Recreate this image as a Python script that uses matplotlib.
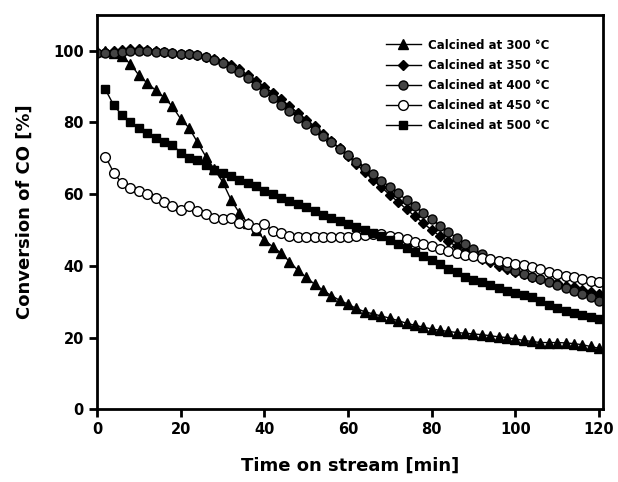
import matplotlib
matplotlib.use("Agg")
import matplotlib.pyplot as plt
import numpy as np

plt.rcParams['font.family'] = ['DejaVu Sans']

# time axes [min]
t_full = list(range(0, 121, 2))
t_late = list(range(2, 121, 2))

labels = ["Calcined at 300 °C", "Calcined at 350 °C", "Calcined at 400 °C",
          "Calcined at 450 °C", "Calcined at 500 °C"]

conv_300 = [100, 100, 99.5, 98.5, 96.3, 93.2, 91, 89, 87, 84.5, 81, 78.5, 74.5, 70.5, 67,
            63.5, 58.5, 54.8, 52, 50, 47.3, 45.3, 43.6, 41.2, 38.8, 36.8, 34.9, 33.2, 31.7,
            30.4, 29.3, 28.1, 27.2, 26.6, 26, 25.4, 24.7, 24, 23.4, 22.9, 22.4, 22, 21.7,
            21.4, 21.2, 21, 20.8, 20.5, 20.2, 20, 19.6, 19.2, 18.9, 18.6, 18.6, 18.6, 18.5,
            18.3, 18, 17.5, 17]

conv_350 = [99.5, 99.8, 100, 100.3, 100.5, 100.5, 100.3, 100, 99.8, 99.5, 99.2, 99, 98.7,
            98.3, 97.8, 97, 96, 94.8, 93.3, 91.7, 90, 88.3, 86.5, 84.6, 82.7, 80.8, 78.9,
            76.9, 74.9, 72.8, 70.6, 68.4, 66.2, 64, 61.9, 59.8, 57.8, 55.8, 53.8, 51.9, 50,
            48.3, 46.8, 45.4, 44.2, 43, 42, 41, 40, 39.2, 38.4, 37.7, 37, 36.3, 35.7, 35.1,
            34.5, 34, 33.4, 32.8, 32.2]

conv_400 = [99.5, 99.5, 99.5, 99.8, 100, 100, 100, 99.8, 99.6, 99.4, 99.2, 99, 98.7, 98.2,
            97.5, 96.5, 95.3, 94, 92.3, 90.5, 88.5, 86.8, 85, 83.2, 81.3, 79.6, 78, 76.3,
            74.6, 72.6, 70.8, 69, 67.2, 65.5, 63.8, 62, 60.2, 58.4, 56.6, 54.8, 53, 51.2,
            49.5, 47.8, 46.2, 44.7, 43.3, 42, 40.8, 39.7, 38.7, 37.8, 37, 36.2, 35.4, 34.6,
            33.8, 33, 32.2, 31.2, 30.3]

conv_450 = [70.5, 66, 63, 61.8, 60.8, 60, 59, 57.7, 56.8, 55.5, 56.7, 55.4, 54.4, 53.4, 53,
            53.3, 52, 51.6, 50.6, 51.7, 49.8, 49.2, 48.2, 48, 48, 48, 48, 48, 48.1, 48.1,
            48.3, 48.6, 48.8, 48.8, 48.4, 48, 47.5, 46.6, 46.1, 45.6, 44.8, 44.1, 43.5, 43.1,
            42.8, 42.3, 41.8, 41.4, 41, 40.5, 40.1, 39.7, 39.2, 38.4, 37.8, 37.3, 36.8, 36.3,
            35.9, 35.4]

conv_500 = [89.2, 84.8, 82, 80, 78.4, 77, 75.8, 74.6, 73.8, 71.6, 70.2, 69.4, 68, 66.8, 65.8,
            65, 64, 63.2, 62.3, 61, 60, 59, 58.2, 57.3, 56.3, 55.3, 54.3, 53.3, 52.5, 51.7,
            50.8, 50, 49.2, 48.2, 47.2, 46.1, 45, 43.8, 42.7, 41.7, 40.6, 39.2, 38.2, 37, 36,
            35.4, 34.6, 33.8, 33, 32.4, 31.8, 31.2, 30.3, 29.2, 28.2, 27.4, 26.8, 26.2, 25.7,
            25.3]

fig = plt.figure(figsize=(6.18, 4.82), dpi=100)
ax = fig.add_axes([0.157, 0.151, 0.819, 0.818])

ax.plot(t_full, conv_300, color='black', lw=1, marker='^', ms=7, mfc='black', mec='black', label=labels[0])
ax.plot(t_full, conv_350, color='black', lw=1, marker='D', ms=5.5, mfc='black', mec='black', label=labels[1])
ax.plot(t_full, conv_400, color='black', lw=1, marker='o', ms=6.5, mfc='#444444', mec='black', mew=1, label=labels[2])
ax.plot(t_late, conv_450, color='black', lw=1, marker='o', ms=7, mfc='white', mec='black', mew=1, label=labels[3])
ax.plot(t_late, conv_500, color='black', lw=1, marker='s', ms=6, mfc='black', mec='black', label=labels[4])

ax.set_xlim(0, 121)
ax.set_ylim(0, 110)
ax.set_xticks([0, 20, 40, 60, 80, 100, 120])
ax.set_yticks([0, 20, 40, 60, 80, 100])
for s in ax.spines.values():
    s.set_linewidth(2)
ax.tick_params(direction='out', length=6, width=2, labelsize=10.5)
for lab in ax.get_xticklabels() + ax.get_yticklabels():
    lab.set_fontweight('bold')

ax.set_xlabel("Time on stream [min]", fontsize=13, fontweight='bold', labelpad=14)
ax.set_ylabel("Conversion of CO [%]", fontsize=13, fontweight='bold', labelpad=14)

leg = ax.legend(loc='upper left', bbox_to_anchor=(0.57, 0.94), frameon=False,
                prop={'weight': 'bold', 'size': 8.5}, borderpad=0, borderaxespad=0,
                handlelength=3.0, handletextpad=0.6, labelspacing=0.6)

fig.savefig("out.png", dpi=100)
